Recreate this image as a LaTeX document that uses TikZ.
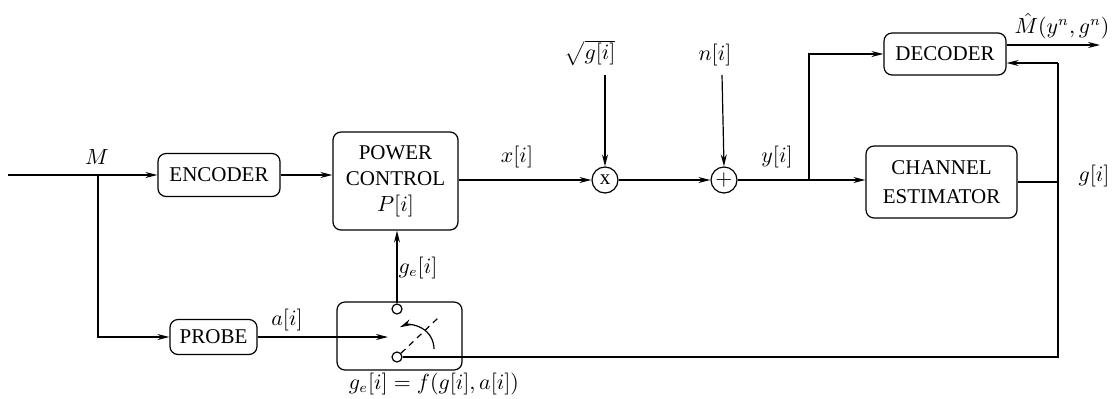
\documentclass[tikz,border=0pt]{standalone}
\usepackage{fontspec}
\setmainfont{Liberation Serif}
\usetikzlibrary{arrows.meta,calc}
\begin{document}
\begin{tikzpicture}[x=0.5pt,y=-0.5pt,
  every node/.style={font=\fontsize{10.5}{12.5}\selectfont, inner sep=0pt},
  blk/.style={draw, rounded corners=4pt, line width=0.6pt, align=center},
  sumc/.style={draw, circle, minimum size=13pt, line width=0.6pt},
  port/.style={draw, circle, minimum size=5pt, line width=0.6pt, fill=white},
  ln/.style={line width=0.6pt},
  arr/.style={ln, -{Stealth[length=6pt,width=3pt]}}]
\useasboundingbox (0,0) rectangle (1112,398);
% blocks
\node[blk, minimum width=61pt, minimum height=21.5pt] (enc) at (219,175) {ENCODER};
\node[blk, minimum width=62.5pt, minimum height=49pt, font=\fontsize{10.5}{13}\selectfont] (pc) at (395.5,181) {POWER\\CONTROL\\$P[i]$};
\node[blk, minimum width=43.5pt, minimum height=17.5pt] (probe) at (213.5,337) {PROBE};
\node[blk, minimum width=62.5pt, minimum height=34pt] (sw) at (399.5,336) {};
\node[sumc] (mult) at (605,180) {x};
\node[sumc] (add) at (724,180) {$+$};
\node[blk, minimum width=61pt, minimum height=21pt] (dec) at (945,54) {DECODER};
\node[blk, minimum width=75.5pt, minimum height=36pt, font=\fontsize{10.5}{14.5}\selectfont] (est) at (941.5,182) {CHANNEL\\ESTIMATOR};
% switch internals
\node[port] (c1) at (397,309) {};
\node[port] (c2) at (397,357) {};
\coordinate (dashend) at (438,318);
\draw[ln, dash pattern=on 3pt off 2.5pt] (c2) -- (dashend);
\coordinate (arcstart) at (434,349);
\draw[arr] (arcstart) arc[start angle=0, end angle=-115, radius=24];
% coordinates
\coordinate (in) at (8,175);
\coordinate (br) at (98,175);
\coordinate (swin) at (388,337);
\coordinate (yb) at (809,180);
\coordinate (gr) at (1058,182);
\coordinate (gbot) at (1058,357);
\coordinate (gtop) at (1058,63);
\coordinate (out) at (1100,45);
\coordinate (sq) at (605,75);
\coordinate (nn) at (722,75);
% connectors
\draw[arr] (in) -- (enc.west);
\draw[arr] (br) |- (probe.west);
\draw[arr] (enc.east) -- (enc.east -| pc.west);
\draw[arr] (pc.east |- mult) -- (mult.west);
\draw[arr] (mult.east) -- (add.west);
\draw[ln] (add.east) -- (yb);
\draw[arr] (yb) -- (yb -| est.west);
\draw[arr] (yb) |- (dec.west);
\draw[arr] (dec.east |- out) -- (out);
\draw[ln] (est.east |- gr) -- (gr);
\draw[ln] (c2.east) -- (gbot) -- (gtop);
\draw[arr] (gtop) -- (gtop -| dec.east);
\draw[arr] (probe.east) -- (swin);
\draw[arr] (c1.north) -- (c1 |- pc.south);
\draw[arr] (sq) -- (mult.north);
\draw[arr] (nn) -- (add.north);
% labels
\node (lM) at (97,157) {$M$};
\node (lx) at (517,157) {$x[i]$};
\node (ly) at (777,157) {$y[i]$};
\node (lg) at (1094,176) {$g[i]$};
\node (lsq) at (590,53) {$\sqrt{g[i]}$};
\node (lnn) at (715,55) {$n[i]$};
\node (lMh) at (1062,26) {$\hat{M}(y^n,g^n)$};
\node (la) at (287,320) {$a[i]$};
\node (lge) at (418,268) {$g_e[i]$};
\node (lf) at (434,384) {$g_e[i]=f(g[i],a[i])$};
\end{tikzpicture}
\end{document}
